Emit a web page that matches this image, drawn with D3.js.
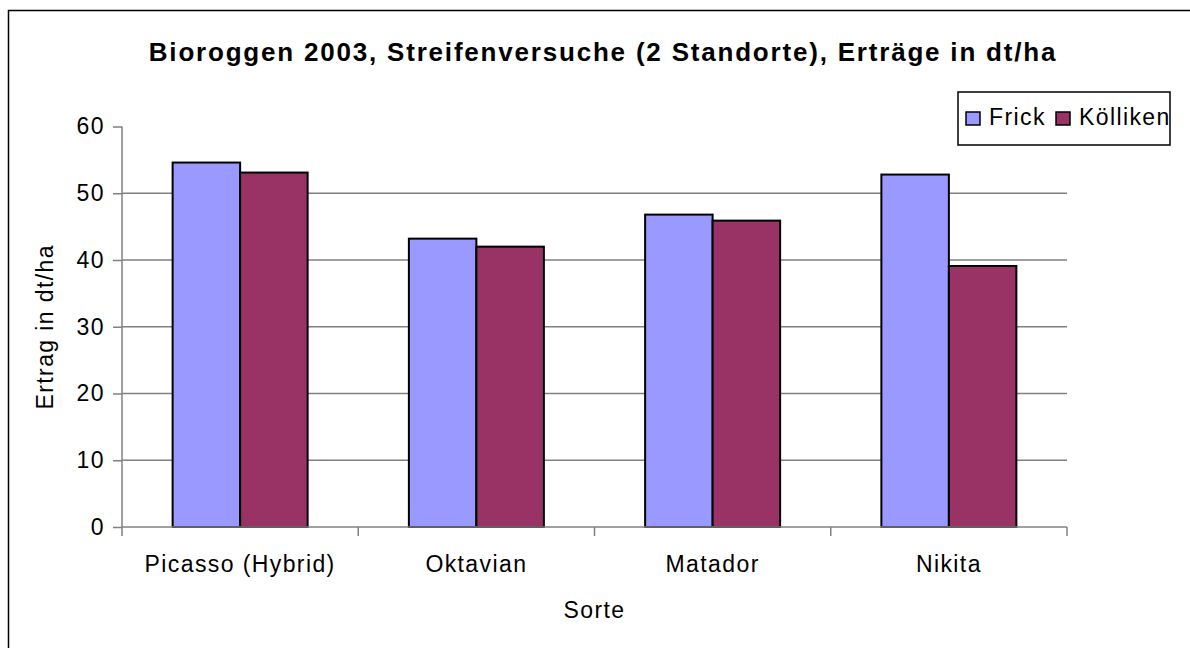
<!DOCTYPE html>
<html>
<head>
<meta charset="utf-8">
<script src="https://cdn.jsdelivr.net/npm/d3@7"></script>
<style>
  body { margin: 0; background: #fff; }
  text { font-family: "Liberation Sans", Arial, sans-serif; fill: #000; }
</style>
</head>
<body>
<div id="chart-area"></div>
<script>
// data
var sorten = ["Picasso (Hybrid)", "Oktavian", "Matador", "Nikita"];
var standorte = ["Frick", "Kölliken"];
var frick = [54.6, 43.2, 46.8, 52.8];
var koelliken = [53.1, 42.0, 45.9, 39.1];
var yTicks = [0, 10, 20, 30, 40, 50, 60];
var colors = ["#9999FF", "#993366"];

var W = 1190, H = 648;
var margin = {left: 122, right: 1190 - 1067, top: 126.5, bottom: 648 - 527};
var width = W - margin.left - margin.right;
var height = H - margin.top - margin.bottom;

var fontSize = "23px", spacing = "1.4px";

var svg = d3.select("#chart-area").append("svg")
    .attr("width", W)
    .attr("height", H);

// outer chart frame
svg.append("rect")
    .attr("x", 8.5).attr("y", 10.5)
    .attr("width", 1200).attr("height", 700)
    .attr("fill", "none")
    .attr("stroke", "#000")
    .attr("stroke-width", 1.5);

var g = svg.append("g")
    .attr("transform", "translate(" + margin.left + "," + margin.top + ")");

var x0 = d3.scaleBand()
    .domain(sorten)
    .range([0, width]);

// excel style gap width 150%
var gap = x0.bandwidth() * 0.75 / 3.5;
var x1 = d3.scaleBand()
    .domain(standorte)
    .range([gap, x0.bandwidth() - gap]);

var y = d3.scaleLinear()
    .domain([0, 60])
    .range([height, 0]);

var color = d3.scaleOrdinal().domain(standorte).range(colors);

// gridlines
g.selectAll(".grid")
    .data(yTicks.filter(function(d) { return d > 0 && d < 60; }))
    .enter().append("line")
    .attr("x1", 0).attr("x2", width)
    .attr("y1", function(d) { return y(d); })
    .attr("y2", function(d) { return y(d); })
    .attr("stroke", "#808080")
    .attr("stroke-width", 1.5);

// bars
var rows = sorten.map(function(s, i) {
    return {sorte: s, values: [frick[i], koelliken[i]]};
});

var groups = g.selectAll(".group")
    .data(rows)
    .enter().append("g")
    .attr("transform", function(d) { return "translate(" + x0(d.sorte) + ",0)"; });

groups.selectAll("rect")
    .data(function(d) { return d.values.map(function(v, i) { return {key: standorte[i], value: v}; }); })
    .enter().append("rect")
    .attr("x", function(d) { return x1(d.key); })
    .attr("y", function(d) { return y(d.value); })
    .attr("width", x1.bandwidth())
    .attr("height", function(d) { return height - y(d.value); })
    .attr("fill", function(d) { return color(d.key); })
    .attr("stroke", "#000")
    .attr("stroke-width", 2);

// y axis
var yAxis = g.append("g")
    .call(d3.axisLeft(y).tickValues(yTicks).tickSize(9).tickPadding(8));
yAxis.selectAll("line, path").attr("stroke", "#808080").attr("stroke-width", 1.5);
yAxis.select(".domain").attr("d", "M0," + height + "V0");
yAxis.selectAll("text")
    .style("font-family", "Liberation Sans, Arial, sans-serif")
    .style("font-size", fontSize)
    .style("letter-spacing", spacing)
    .attr("fill", "#000");

// x axis
var xAxis = g.append("g")
    .attr("transform", "translate(0," + height + ")")
    .call(d3.axisBottom(x0).tickSize(0).tickPadding(29));
xAxis.select(".domain").attr("stroke", "#808080").attr("stroke-width", 1.5)
    .attr("d", "M0,0H" + width);
xAxis.selectAll("text")
    .style("font-family", "Liberation Sans, Arial, sans-serif")
    .style("font-size", fontSize)
    .style("letter-spacing", spacing)
    .attr("fill", "#000");

// category separators
g.selectAll(".xtick")
    .data(d3.range(sorten.length + 1))
    .enter().append("line")
    .attr("x1", function(i) { return i * x0.step(); })
    .attr("x2", function(i) { return i * x0.step(); })
    .attr("y1", height).attr("y2", height + 9)
    .attr("stroke", "#808080")
    .attr("stroke-width", 1.5);

// titles
svg.append("text")
    .attr("x", 603).attr("y", 61)
    .attr("text-anchor", "middle")
    .attr("font-weight", "bold")
    .attr("font-size", "26px")
    .style("letter-spacing", "1.8px")
    .text("Bioroggen 2003, Streifenversuche (2 Standorte), Erträge in dt/ha");

svg.append("text")
    .attr("x", margin.left + width / 2).attr("y", 618)
    .attr("text-anchor", "middle")
    .attr("font-size", fontSize)
    .style("letter-spacing", spacing)
    .text("Sorte");

svg.append("text")
    .attr("transform", "translate(53," + (margin.top + height / 2) + ") rotate(-90)")
    .attr("text-anchor", "middle")
    .attr("font-size", fontSize)
    .style("letter-spacing", spacing)
    .text("Ertrag in dt/ha");

// legend
var legend = svg.append("g");
legend.append("rect")
    .attr("x", 958).attr("y", 92)
    .attr("width", 212).attr("height", 53)
    .attr("fill", "#fff")
    .attr("stroke", "#000")
    .attr("stroke-width", 1.5);

var legendX = [966, 1056];
standorte.forEach(function(s, i) {
    legend.append("rect")
        .attr("x", legendX[i]).attr("y", 112)
        .attr("width", 14).attr("height", 13)
        .attr("fill", color(s))
        .attr("stroke", "#000")
        .attr("stroke-width", 1.5);
    legend.append("text")
        .attr("x", legendX[i] + 23).attr("y", 125)
        .attr("font-size", fontSize)
        .style("letter-spacing", spacing)
        .text(s);
});
</script>
</body>
</html>
